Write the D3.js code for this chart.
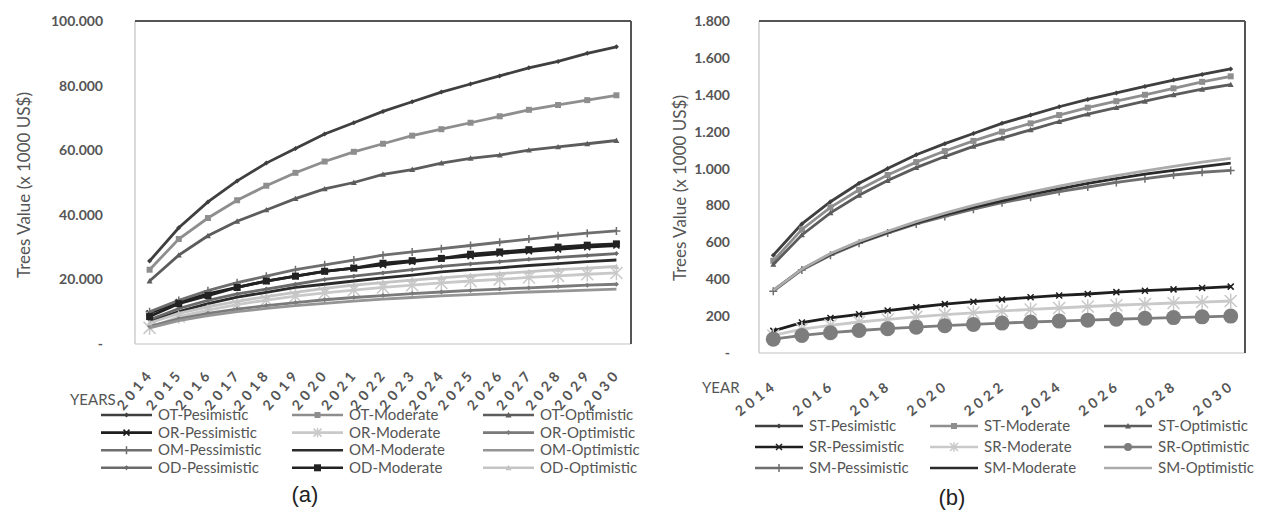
<!DOCTYPE html>
<html>
<head>
<meta charset="utf-8">
<script src="https://cdn.jsdelivr.net/npm/d3@7"></script>
<style>
  body { margin: 0; background: #fff; }
  svg text { font-family: Lato, "Open Sans", sans-serif; }
</style>
</head>
<body>
<svg id="chart" width="1270" height="519"></svg>
<script>
const years = [2014, 2015, 2016, 2017, 2018, 2019, 2020, 2021, 2022, 2023, 2024, 2025, 2026, 2027, 2028, 2029, 2030];

// panel (a) values, x 1000 US$
const otPesimistic = [25700, 36000, 44000, 50500, 56000, 60500, 65000, 68500, 72000, 75000, 78000, 80500, 83000, 85500, 87500, 90000, 92000];
const otModerate = [23000, 32500, 39000, 44500, 49000, 53000, 56500, 59500, 62000, 64500, 66500, 68500, 70500, 72500, 74000, 75500, 77000];
const otOptimistic = [19500, 27500, 33500, 38000, 41500, 45000, 48000, 50000, 52500, 54000, 56000, 57500, 58500, 60000, 61000, 62000, 63000];
const orPessimistic = [9500, 13000, 15500, 17500, 19500, 21000, 22500, 23500, 24500, 25500, 26500, 27200, 28000, 28700, 29300, 30000, 30500];
const orModerate = [5000, 8500, 10500, 12200, 13600, 14800, 15800, 16700, 17500, 18200, 18900, 19500, 20000, 20600, 21100, 21600, 22000];
const orOptimistic = [5500, 7800, 9500, 10800, 11900, 12800, 13700, 14400, 15000, 15600, 16100, 16600, 17000, 17400, 17800, 18200, 18500];
const omPessimistic = [10000, 13500, 16500, 19000, 21000, 23000, 24500, 26000, 27500, 28500, 29500, 30500, 31500, 32500, 33500, 34300, 35000];
const omModerate = [7000, 10000, 12500, 14500, 16000, 17500, 18500, 19500, 20500, 21300, 22300, 23000, 23600, 24300, 24900, 25500, 26000];
const omOptimistic = [5000, 7200, 8800, 10000, 11000, 11900, 12600, 13300, 13900, 14400, 14900, 15300, 15700, 16100, 16400, 16700, 17000];
const odPessimistic = [7500, 11000, 13500, 15500, 17000, 18500, 20000, 21000, 22000, 23000, 24000, 24800, 25500, 26200, 26800, 27400, 28000];
const odModerate = [8500, 12500, 15000, 17500, 19500, 21000, 22500, 23500, 25000, 25800, 26500, 27800, 28500, 29200, 30000, 30600, 31000];
const odOptimistic = [6500, 9500, 11500, 13200, 14700, 16000, 17200, 18200, 19000, 19800, 20500, 21200, 21800, 22400, 23000, 23500, 24000];

// panel (b) values, x 1000 US$
const stPesimistic = [530, 700, 820, 920, 1000, 1075, 1135, 1190, 1245, 1290, 1335, 1375, 1410, 1445, 1480, 1510, 1540];
const stModerate = [500, 670, 790, 885, 965, 1035, 1095, 1150, 1200, 1245, 1290, 1330, 1365, 1400, 1435, 1470, 1500];
const stOptimistic = [480, 640, 760, 855, 935, 1005, 1065, 1120, 1165, 1210, 1255, 1295, 1330, 1365, 1400, 1430, 1455];
const srPessimistic = [120, 165, 190, 210, 230, 248, 265, 278, 290, 302, 312, 320, 330, 338, 345, 352, 360];
const srModerate = [95, 130, 150, 168, 182, 196, 208, 218, 228, 236, 244, 252, 259, 265, 271, 276, 282];
const srOptimistic = [75, 95, 110, 122, 132, 140, 148, 155, 162, 168, 173, 178, 183, 188, 192, 196, 200];
const smPessimistic = [335, 450, 530, 595, 650, 700, 740, 780, 815, 845, 875, 900, 925, 945, 965, 980, 990];
const smModerate = [340, 455, 535, 600, 655, 705, 750, 790, 825, 860, 890, 920, 945, 970, 990, 1010, 1030];
const smOptimistic = [340, 455, 540, 605, 660, 712, 758, 800, 838, 872, 905, 935, 962, 988, 1012, 1035, 1055];

const yTicksA = [0, 20000, 40000, 60000, 80000, 100000];
const yTicksB = [0, 200, 400, 600, 800, 1000, 1200, 1400, 1600, 1800];
const xTicksB = [2014, 2016, 2018, 2020, 2022, 2024, 2026, 2028, 2030];

const seriesA = [
  { name: 'OT-Pesimistic', values: otPesimistic, color: '#3f3f3f', marker: 'diamond', ms: 2.5 },
  { name: 'OT-Moderate', values: otModerate, color: '#8e8e8e', marker: 'square', ms: 3 },
  { name: 'OT-Optimistic', values: otOptimistic, color: '#5c5c5c', marker: 'triangle', ms: 3 },
  { name: 'OR-Pessimistic', values: orPessimistic, color: '#1e1e1e', marker: 'x', ms: 3 },
  { name: 'OR-Moderate', values: orModerate, color: '#c9c9c9', marker: 'star', ms: 6 },
  { name: 'OR-Optimistic', values: orOptimistic, color: '#7a7a7a', marker: 'diamond', ms: 2.5 },
  { name: 'OM-Pessimistic', values: omPessimistic, color: '#6e6e6e', marker: 'plus', ms: 4 },
  { name: 'OM-Moderate', values: omModerate, color: '#2b2b2b', marker: 'none', ms: 0 },
  { name: 'OM-Optimistic', values: omOptimistic, color: '#959595', marker: 'none', ms: 0 },
  { name: 'OD-Pessimistic', values: odPessimistic, color: '#6a6a6a', marker: 'diamond', ms: 2.5 },
  { name: 'OD-Moderate', values: odModerate, color: '#222222', marker: 'square', ms: 3.5 },
  { name: 'OD-Optimistic', values: odOptimistic, color: '#c4c4c4', marker: 'triangle', ms: 3 },
];

const seriesB = [
  { name: 'ST-Pesimistic', values: stPesimistic, color: '#3f3f3f', marker: 'diamond', ms: 2.5 },
  { name: 'ST-Moderate', values: stModerate, color: '#8e8e8e', marker: 'square', ms: 3 },
  { name: 'ST-Optimistic', values: stOptimistic, color: '#5c5c5c', marker: 'triangle', ms: 3 },
  { name: 'SR-Pessimistic', values: srPessimistic, color: '#1e1e1e', marker: 'x', ms: 3 },
  { name: 'SR-Moderate', values: srModerate, color: '#c9c9c9', marker: 'star', ms: 6 },
  { name: 'SR-Optimistic', values: srOptimistic, color: '#7d7d7d', marker: 'circle', ms: 7.5 },
  { name: 'SM-Pessimistic', values: smPessimistic, color: '#6e6e6e', marker: 'plus', ms: 4 },
  { name: 'SM-Moderate', values: smModerate, color: '#2b2b2b', marker: 'none', ms: 0 },
  { name: 'SM-Optimistic', values: smOptimistic, color: '#ababab', marker: 'none', ms: 0 },
];

const locale = d3.formatLocale({ decimal: ',', thousands: '.', grouping: [3], currency: ['', ''] });
const numFormat = locale.format(',.0f');
const yFormat = (d) => (d === 0 ? '-' : numFormat(d));

const svg = d3.select('#chart');

function markerPath(type, s) {
  if (type === 'diamond') return `M0,${-s}L${s},0L0,${s}L${-s},0Z`;
  if (type === 'square') return `M${-s},${-s}H${s}V${s}H${-s}Z`;
  if (type === 'triangle') return `M0,${-s}L${s},${s * 0.8}L${-s},${s * 0.8}Z`;
  if (type === 'x') return `M${-s},${-s}L${s},${s}M${-s},${s}L${s},${-s}`;
  if (type === 'plus') return `M${-s},0H${s}M0,${-s}V${s}`;
  if (type === 'star') return `M${-s},${-s}L${s},${s}M${-s},${s}L${s},${-s}M0,${-s * 1.2}V${s * 1.2}`;
  return null;
}

function drawMarker(g, type, s, color, x, y) {
  if (type === 'none') return;
  if (type === 'circle') {
    g.append('circle').attr('cx', x).attr('cy', y).attr('r', s).attr('fill', color);
    return;
  }
  const stroked = type === 'x' || type === 'plus' || type === 'star';
  g.append('path')
    .attr('d', markerPath(type, s))
    .attr('transform', `translate(${x},${y})`)
    .attr('fill', stroked ? 'none' : color)
    .attr('stroke', stroked ? color : 'none')
    .attr('stroke-width', 1.5);
}

function drawPanel(p) {
  const xScale = d3.scalePoint().domain(years).range([p.left, p.right]).padding(0.5);
  const yScale = d3.scaleLinear().domain(p.yDomain).range([p.bottom, p.top]);

  // plot frame: light left/bottom, dark top/right
  svg.append('line').attr('x1', p.left).attr('x2', p.left).attr('y1', p.top).attr('y2', p.bottom).attr('stroke', '#c2c2c2').attr('stroke-width', 1.2);
  svg.append('line').attr('x1', p.left).attr('x2', p.right).attr('y1', p.bottom).attr('y2', p.bottom).attr('stroke', '#c2c2c2').attr('stroke-width', 1.2);
  svg.append('line').attr('x1', p.left).attr('x2', p.right).attr('y1', p.top).attr('y2', p.top).attr('stroke', '#555').attr('stroke-width', 2);
  svg.append('line').attr('x1', p.right).attr('x2', p.right).attr('y1', p.top).attr('y2', p.bottom).attr('stroke', '#555').attr('stroke-width', 2);

  const yAxis = d3.axisLeft(yScale).tickValues(p.yTicks).tickSize(0).tickPadding(p.yPad).tickFormat(yFormat);
  const yAxisGroup = svg.append('g').attr('transform', `translate(${p.left},0)`).call(yAxis);
  yAxisGroup.select('.domain').remove();
  yAxisGroup.selectAll('text')
    .attr('fill', '#555')
    .style('font-size', '14px')
    .style('font-weight', 'bold');

  const xAxisGroup = svg.append('g');
  xAxisGroup.selectAll('text')
    .data(p.xTicks)
    .join('text')
    .attr('transform', (d) => `translate(${xScale(d) + p.xLabelDx},${p.xLabelY}) rotate(${p.xAngle})`)
    .attr('text-anchor', 'end')
    .attr('fill', '#555')
    .style('font-size', '14px')
    .style('font-weight', 'bold')
    .style('letter-spacing', '4px')
    .text((d) => d);

  svg.append('text')
    .attr('x', p.yearX)
    .attr('y', p.yearY)
    .attr('fill', '#555')
    .style('font-size', '15px')
    .text(p.yearLabel);

  svg.append('text')
    .attr('transform', `translate(${p.titleX},${p.titleY}) rotate(-90)`)
    .attr('text-anchor', 'middle')
    .attr('fill', '#555')
    .style('font-size', '17px')
    .text('Trees Value (x 1000 US$)');

  const line = d3.line().x((d, i) => xScale(years[i])).y((d) => yScale(d));
  const marks = svg.append('g');
  p.series.forEach((s) => {
    marks.append('path')
      .datum(s.values)
      .attr('d', line)
      .attr('fill', 'none')
      .attr('stroke', s.color)
      .attr('stroke-width', 2.8);
    s.values.forEach((v, i) => drawMarker(marks, s.marker, s.ms, s.color, xScale(years[i]), yScale(v)));
  });

  // legend, three columns filled row by row
  const legend = svg.append('g');
  p.series.forEach((s, i) => {
    const col = i % 3;
    const row = Math.floor(i / 3);
    const lx = p.legendX[col];
    const ly = p.legendY + row * p.legendStep;
    legend.append('line')
      .attr('x1', lx).attr('x2', lx + p.legendLen)
      .attr('y1', ly).attr('y2', ly)
      .attr('stroke', s.color).attr('stroke-width', 2.6);
    drawMarker(legend, s.marker, Math.min(s.ms, 4), s.color, lx + p.legendLen / 2, ly);
    legend.append('text')
      .attr('x', lx + p.legendLen + 6)
      .attr('y', ly)
      .attr('dy', '0.35em')
      .attr('fill', '#555')
      .style('font-size', '15px')
      .text(s.name);
  });

  svg.append('text')
    .attr('x', p.capX)
    .attr('y', p.capY)
    .attr('text-anchor', 'middle')
    .attr('dy', '0.35em')
    .attr('fill', '#222')
    .style('font-family', 'Arial, "Liberation Sans", sans-serif')
    .style('font-size', '22px')
    .text(p.caption);
}

drawPanel({
  left: 135, right: 631, top: 21, bottom: 344,
  yDomain: [0, 100000], yTicks: yTicksA, yPad: 32,
  xTicks: years, xAngle: -50, xLabelDx: 5, xLabelY: 374,
  yearLabel: 'YEARS', yearX: 70, yearY: 405,
  titleX: 30, titleY: 185,
  series: seriesA,
  legendX: [101, 292, 483], legendY: 415, legendStep: 17.6, legendLen: 51,
  caption: '(a)', capX: 305, capY: 494,
});

drawPanel({
  left: 759, right: 1245, top: 21, bottom: 353,
  yDomain: [0, 1800], yTicks: yTicksB, yPad: 29,
  xTicks: xTicksB, xAngle: -38, xLabelDx: 5, xLabelY: 387,
  yearLabel: 'YEAR', yearX: 702, yearY: 393,
  titleX: 686, titleY: 188,
  series: seriesB,
  legendX: [755, 930, 1104], legendY: 426, legendStep: 21, legendLen: 48,
  caption: '(b)', capX: 952, capY: 497,
});
</script>
</body>
</html>
